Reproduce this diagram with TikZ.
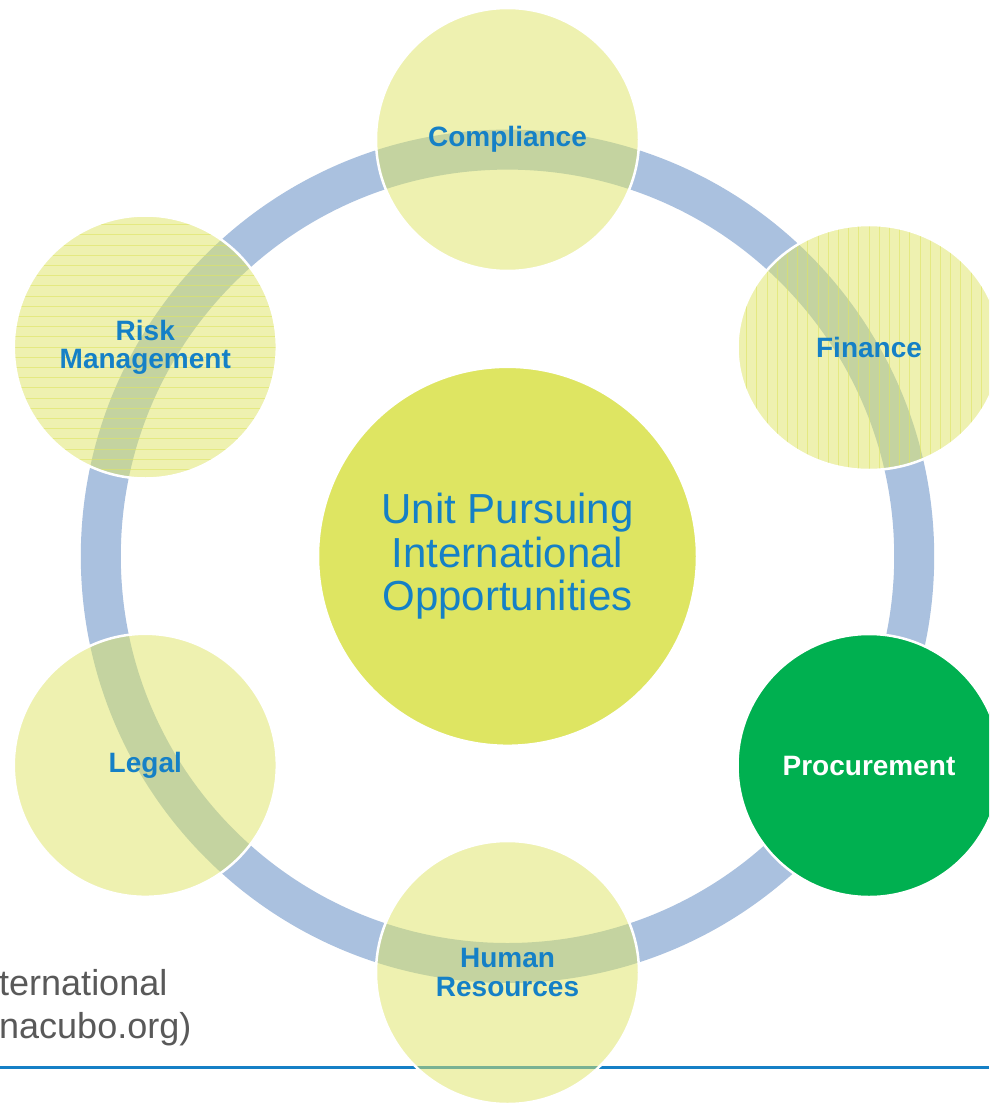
\documentclass[tikz,border=0pt]{standalone}
\usepackage{fontspec}
\setmainfont{Liberation Sans}
\usetikzlibrary{shapes.geometric}
\definecolor{hubfill}{HTML}{DEE562}
\definecolor{ringblue}{HTML}{AAC1DF}
\definecolor{labelblue}{HTML}{1580C6}
\definecolor{procgreen}{HTML}{00B050}
\definecolor{notegray}{HTML}{595959}

\begin{document}
\begin{tikzpicture}[x=1pt,y=-1pt,
  sat/.style={circle,minimum size=263pt,inner sep=0pt,fill=hubfill,fill opacity=.5,text opacity=1,
    draw=white,line width=2.5pt,text=labelblue,align=center,font=\fontsize{28}{28.3}\selectfont\bfseries},
  hatchline/.style={draw=hubfill,draw opacity=.6,line width=.8pt},
  hlines/.style={path picture={\foreach \k in {-13,...,13}
    \draw[hatchline] ([yshift=\k*10.2pt]path picture bounding box.west) -- ([yshift=\k*10.2pt]path picture bounding box.east);}},
  vlines/.style={path picture={\foreach \k in {-13,...,13}
    \draw[hatchline] ([xshift=\k*10.2pt]path picture bounding box.north) -- ([xshift=\k*10.2pt]path picture bounding box.south);}},
  note/.style={anchor=base west,inner sep=0pt,text=notegray,font=\fontsize{36}{43}\selectfont}]
\path[use as bounding box,fill=white] (0,0) rectangle (989,1105);
\clip (0,0) rectangle (989,1105);

\draw[ringblue,line width=40pt] (507.5,556.3) circle (406.7pt);
\coordinate (ruleL) at (0,1067);
\coordinate (ruleR) at (989,1067);
\draw[labelblue,line width=3pt] (ruleL) -- (ruleR);

\node[circle,minimum size=379pt,inner sep=0pt,fill=hubfill,draw=white,line width=2.5pt,text=labelblue,
  align=center,font=\fontsize{42}{43.5}\selectfont] (hub) at (507.5,556.3) {Unit Pursuing\\International\\Opportunities};

\node[sat] (compliance) at (507.5,139.5) {Compliance};
\node[sat,ellipse,minimum width=263pt,minimum height=245pt,vlines] (finance) at (869,347.5) {Finance};
\node[sat,fill=procgreen,fill opacity=1,text=white] (procurement) at (869,765.5) {Procurement};
\node[sat] (hr) at (507.5,972.5) {Human\\Resources};
\node[sat] (legal) at (145.3,765.3) {Legal};
\node[sat,hlines] (risk) at (145.3,347) {Risk\\Management};

\node[note] (src1) at (-1,995) {ternational};
\node[note] (src2) at (-1,1038) {nacubo.org)};
\end{tikzpicture}
\end{document}
